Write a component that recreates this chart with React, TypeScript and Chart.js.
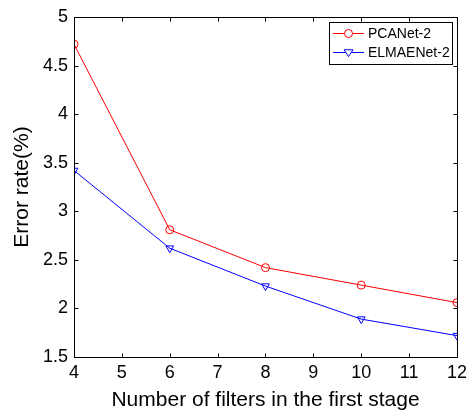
import React, { useEffect, useRef } from "react";
import { Chart, registerables } from "chart.js";

Chart.register(...registerables);

const filters = [4, 6, 8, 10, 12];
const pcanet = [4.72, 2.81, 2.42, 2.24, 2.06];
const elmaenet = [3.42, 2.62, 2.23, 1.89, 1.72];
const seriesLabels = ["PCANet-2", "ELMAENet-2"];
const xTitle = "Number of filters in the first stage";
const yTitle = "Error rate(%)";

const FONT = "Arial, 'Liberation Sans', Helvetica, sans-serif";

const boxPlugin = {
  id: "matlabBox",
  afterDatasetsDraw(chart: any) {
    const { ctx, chartArea: a, scales } = chart;
    const L = Math.round(a.left) + 0.5;
    const R = Math.round(a.right) + 0.5;
    const T = Math.round(a.top) + 0.5;
    const B = Math.round(a.bottom) + 0.5;
    ctx.save();
    ctx.strokeStyle = "#000";
    ctx.lineWidth = 1;
    ctx.strokeRect(L, T, R - L, B - T);
    const tl = 4;
    ctx.beginPath();
    scales.x.ticks.forEach((t: any) => {
      const x = Math.round(scales.x.getPixelForValue(t.value)) + 0.5;
      ctx.moveTo(x, B);
      ctx.lineTo(x, B - tl);
      ctx.moveTo(x, T);
      ctx.lineTo(x, T + tl);
    });
    scales.y.ticks.forEach((t: any) => {
      const y = Math.round(scales.y.getPixelForValue(t.value)) + 0.5;
      ctx.moveTo(L, y);
      ctx.lineTo(L + tl, y);
      ctx.moveTo(R, y);
      ctx.lineTo(R - tl, y);
    });
    ctx.stroke();

    // legend
    const lx = 329.5, ly = 22.5, lw = 123, lh = 42;
    ctx.fillStyle = "#fff";
    ctx.fillRect(lx, ly, lw, lh);
    ctx.strokeRect(lx, ly, lw, lh);
    const rows = [33, 52];
    chart.data.datasets.forEach((ds: any, i: number) => {
      const y = rows[i] + 0.5;
      ctx.strokeStyle = ds.borderColor;
      ctx.lineWidth = 1;
      ctx.beginPath();
      ctx.moveTo(333, y);
      ctx.lineTo(364, y);
      ctx.stroke();
      ctx.save();
      ctx.fillStyle = "#fff";
      const r = ds.pointRadius;
      ctx.beginPath();
      if (ds.pointStyle === "circle") {
        ctx.arc(348.5, y, r, 0, Math.PI * 2);
      } else {
        ctx.moveTo(348.5 - r, y - r * 0.6);
        ctx.lineTo(348.5 + r, y - r * 0.6);
        ctx.lineTo(348.5, y + r * 0.9);
        ctx.closePath();
      }
      ctx.fill();
      ctx.stroke();
      ctx.restore();
      ctx.fillStyle = "#000";
      ctx.font = `14px ${FONT}`;
      ctx.textBaseline = "middle";
      ctx.textAlign = "left";
      ctx.fillText(ds.label, 368, rows[i] + 1);
    });
    ctx.restore();
  },
};

export default function App() {
  const ref = useRef<HTMLCanvasElement>(null);
  useEffect(() => {
    document.body.style.margin = "0";
    const chart = new Chart(ref.current!, {
      type: "line",
      data: {
        datasets: [
          {
            label: seriesLabels[0],
            data: filters.map((x, i) => ({ x, y: pcanet[i] })),
            borderColor: "#ff0000",
            backgroundColor: "rgba(0,0,0,0)",
            borderWidth: 1,
            pointStyle: "circle",
            pointRadius: 4,
            pointBorderWidth: 1,
            pointBorderColor: "#ff0000",
            pointBackgroundColor: "rgba(0,0,0,0)",
            tension: 0,
          },
          {
            label: seriesLabels[1],
            data: filters.map((x, i) => ({ x, y: elmaenet[i] })),
            borderColor: "#0000ff",
            backgroundColor: "rgba(0,0,0,0)",
            borderWidth: 1,
            pointStyle: "triangle",
            pointRotation: 180,
            pointRadius: 4.5,
            pointBorderWidth: 1,
            pointBorderColor: "#0000ff",
            pointBackgroundColor: "rgba(0,0,0,0)",
            tension: 0,
          },
        ],
      },
      options: {
        animation: false,
        responsive: false,
        devicePixelRatio: 1,
        layout: { padding: { top: 17, right: 13, left: 0, bottom: 0 } },
        plugins: { legend: { display: false }, tooltip: { enabled: false } },
        scales: {
          x: {
            type: "linear",
            min: 4,
            max: 12,
            grid: { display: false, drawTicks: false },
            border: { display: false },
            ticks: {
              stepSize: 1,
              color: "#000",
              padding: 5,
              font: { size: 18, family: FONT },
              maxRotation: 0,
            },
            title: {
              display: true,
              text: xTitle,
              color: "#000",
              font: { size: 21, family: FONT },
              padding: { top: 0, bottom: 4 },
            },
            afterFit: (s: any) => {
              s.height = 60;
            },
          },
          y: {
            type: "linear",
            min: 1.5,
            max: 5,
            grid: { display: false, drawTicks: false },
            border: { display: false },
            ticks: {
              stepSize: 0.5,
              color: "#000",
              padding: 6,
              font: { size: 18, family: FONT },
              callback: (v: any) => String(Number(v)),
            },
            title: {
              display: true,
              text: yTitle,
              color: "#000",
              font: { size: 21, family: FONT },
              padding: { top: 10, bottom: 0 },
            },
            afterFit: (s: any) => {
              s.width = 74;
            },
          },
        },
      },
      plugins: [boxPlugin],
    });
    return () => chart.destroy();
  }, []);
  return (
    <div style={{ position: "absolute", left: 0, top: 0, width: 472, height: 417, background: "#fff" }}>
      <canvas ref={ref} width={472} height={417} style={{ width: 472, height: 417 }} />
    </div>
  );
}
